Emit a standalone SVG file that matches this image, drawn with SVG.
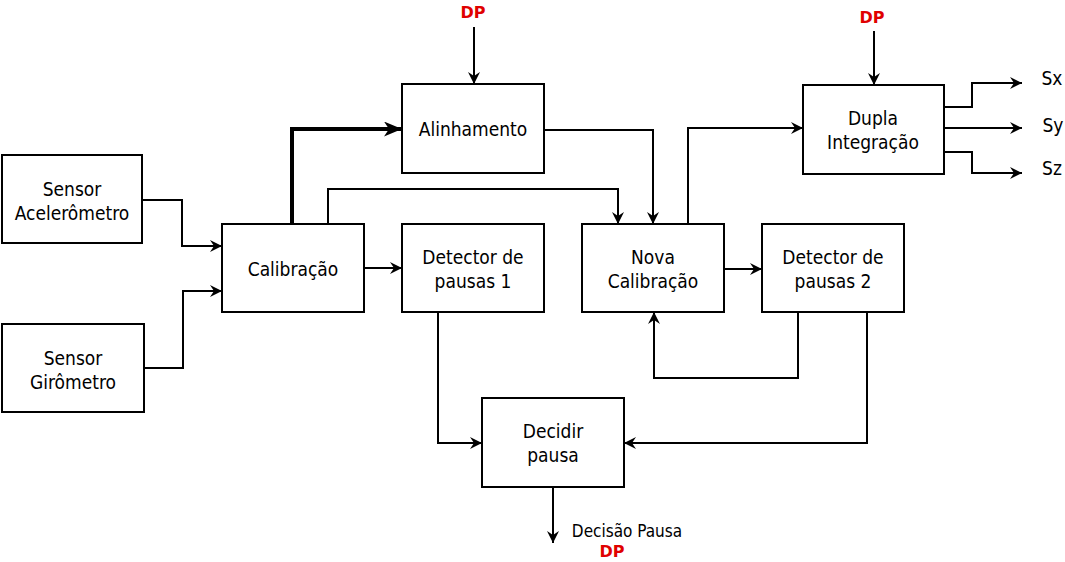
<svg xmlns="http://www.w3.org/2000/svg" width="1065" height="562" viewBox="0 0 1065 562">
<defs>
<style>
.box{fill:#fff;stroke:#000;stroke-width:2}
.t{font-family:"DejaVu Sans Condensed","DejaVu Sans",sans-serif;font-size:19px;fill:#000;text-anchor:middle}
.dp{font-family:"DejaVu Sans",sans-serif;font-size:16px;font-weight:bold;fill:#e00000;text-anchor:middle}
.c{fill:none;stroke:#000;stroke-width:2}
.thick{fill:none;stroke:#000;stroke-width:4}
</style>
<marker id="a" markerUnits="userSpaceOnUse" viewBox="0 0 12 12" markerWidth="12" markerHeight="12" refX="12" refY="6" orient="auto">
<path d="M0,0 L12,6 L0,12 L4,6 Z" fill="#000"/>
</marker>
<marker id="ab" markerUnits="userSpaceOnUse" viewBox="0 0 18 15" markerWidth="18" markerHeight="15" refX="18" refY="7.5" orient="auto">
<path d="M0,0 L18,7.5 L0,15 L5,7.5 Z" fill="#000"/>
</marker>
</defs>
<rect width="1065" height="562" fill="#fff"/>
<g id="connectors">
<polyline class="c" points="142,200 182,200 182,246 222,246" marker-end="url(#a)"/>
<polyline class="c" points="144,368 183,368 183,291 222,291" marker-end="url(#a)"/>
<polyline class="thick" points="292,224 292,129 402,129" marker-end="url(#ab)"/>
<polyline class="c" points="328,224 328,189 618,189 618,224" marker-end="url(#a)"/>
<line class="c" x1="474" y1="27" x2="474" y2="84" marker-end="url(#a)"/>
<polyline class="c" points="544,130 653,130 653,224" marker-end="url(#a)"/>
<line class="c" x1="364" y1="268" x2="402" y2="268" marker-end="url(#a)"/>
<line class="c" x1="724" y1="269" x2="762" y2="269" marker-end="url(#a)"/>
<polyline class="c" points="798,312 798,378 654,378 654,312" marker-end="url(#a)"/>
<polyline class="c" points="867,312 867,443 624,443" marker-end="url(#a)"/>
<polyline class="c" points="438,312 438,443 482,443" marker-end="url(#a)"/>
<polyline class="c" points="688,224 688,128 803,128" marker-end="url(#a)"/>
<line class="c" x1="874" y1="31" x2="874" y2="85" marker-end="url(#a)"/>
<polyline class="c" points="944,107 972,107 972,83 1022,83" marker-end="url(#a)"/>
<line class="c" x1="944" y1="128" x2="1022" y2="128" marker-end="url(#a)"/>
<polyline class="c" points="944,152 972,152 972,173 1022,173" marker-end="url(#a)"/>
<line class="c" x1="553" y1="487" x2="553" y2="543" marker-end="url(#a)"/>
</g>
<g id="acel"><rect class="box" x="2" y="155" width="140" height="88"/><text class="t" x="72" y="196">Sensor</text><text class="t" x="72" y="220">Acelerômetro</text></g>
<g id="giro"><rect class="box" x="2" y="324" width="142" height="88"/><text class="t" x="73" y="365">Sensor</text><text class="t" x="73" y="389">Girômetro</text></g>
<g id="calib"><rect class="box" x="222" y="224" width="142" height="88"/><text class="t" x="293" y="276">Calibração</text></g>
<g id="alinh"><rect class="box" x="402" y="84" width="142" height="89"/><text class="t" x="473" y="136">Alinhamento</text></g>
<g id="det1"><rect class="box" x="402" y="224" width="142" height="88"/><text class="t" x="473" y="264">Detector de</text><text class="t" x="473" y="288">pausas 1</text></g>
<g id="nova"><rect class="box" x="582" y="224" width="142" height="88"/><text class="t" x="653" y="264">Nova</text><text class="t" x="653" y="288">Calibração</text></g>
<g id="det2"><rect class="box" x="762" y="224" width="142" height="88"/><text class="t" x="833" y="264">Detector de</text><text class="t" x="833" y="288">pausas 2</text></g>
<g id="dupla"><rect class="box" x="803" y="85" width="141" height="89"/><text class="t" x="873" y="125">Dupla</text><text class="t" x="873" y="149">Integração</text></g>
<g id="decidir"><rect class="box" x="482" y="398" width="142" height="89"/><text class="t" x="553" y="438">Decidir</text><text class="t" x="553" y="462">pausa</text></g>
<g id="labels">
<text class="dp" x="473" y="18">DP</text>
<text class="dp" x="872" y="23">DP</text>
<text class="t" x="1052" y="85">Sx</text>
<text class="t" x="1053" y="132">Sy</text>
<text class="t" x="1052" y="175">Sz</text>
<text class="t" x="627" y="537" style="font-size:17px">Decisão Pausa</text>
<text class="dp" x="612" y="557">DP</text>
</g>
</svg>
